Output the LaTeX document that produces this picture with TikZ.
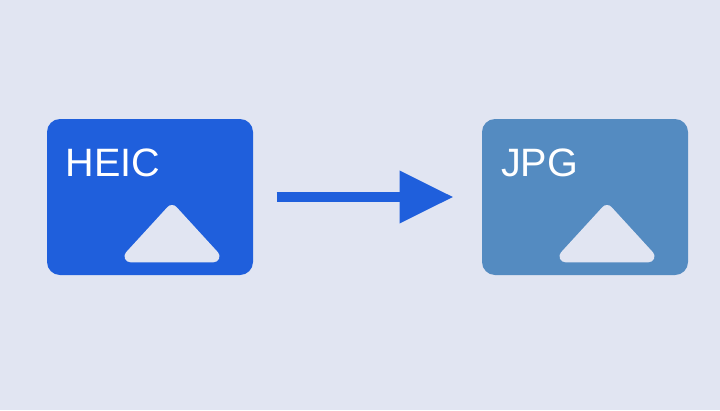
\documentclass[tikz,border=0pt]{standalone}
\usepackage{fontspec}
\setmainfont{Liberation Sans}
\usetikzlibrary{arrows.meta}
\definecolor{bgc}{HTML}{E1E5F2}
\definecolor{heicc}{HTML}{1F5FDC}
\definecolor{jpgc}{HTML}{548BC1}
\tikzset{
  card/.style={rounded corners=13pt,minimum width=206pt,minimum height=156pt,inner sep=0pt,outer sep=0pt,anchor=center},
  cardlabel/.style={text=white,font=\fontsize{39.6}{42}\selectfont,anchor=base west,inner sep=0pt,outer sep=0pt},
  peak/.style={fill=bgc,draw=bgc,line width=12pt,line join=round},
  flow/.style={draw=heicc,line width=10.5pt,-{Triangle[length=54pt,width=50pt,fill=heicc]}}
}
\begin{document}
\begin{tikzpicture}[x=1pt,y=-1pt]
\useasboundingbox (0,0) rectangle (720,410);
\fill[bgc] (0,0) rectangle (720,410);
\node[card,fill=heicc] (heic) at (150,197) {};
\node[card,fill=jpgc] (jpg) at (585,197) {};
\node[cardlabel] (heiclabel) at (65.5,176) {HEIC};
\node[cardlabel] (jpglabel) at (501,176) {JPG};
\path[peak] (130.5,256.3) -- (172,211) -- (213.5,256.3) -- cycle;
\path[peak] (565.5,256.3) -- (607,211) -- (648.5,256.3) -- cycle;
\draw[flow,shorten <=23.5pt,shorten >=28.5pt] (heic.east) -- (jpg.west);
\end{tikzpicture}
\end{document}
